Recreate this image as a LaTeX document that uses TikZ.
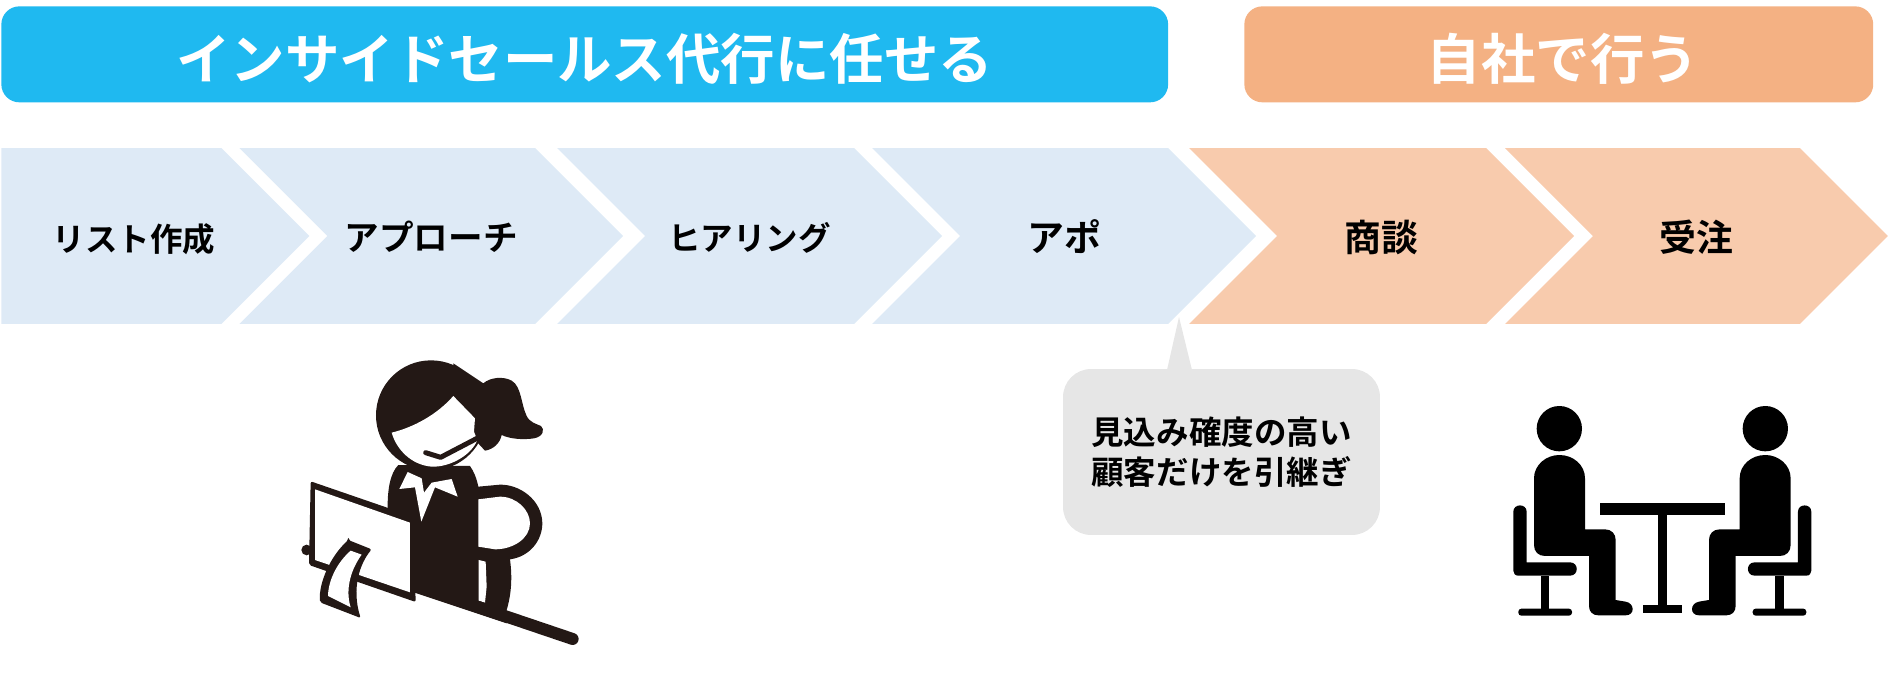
\documentclass[tikz,border=0pt]{standalone}
\usepackage{fontspec}
\setmainfont{Noto Sans CJK JP}[BoldFont={Noto Sans CJK JP Bold}]
\usepackage{tikz}
\usetikzlibrary{positioning,shapes.symbols}
\usepackage{xcolor}
\definecolor{bannerblue}{HTML}{1FB9F0}
\definecolor{bannerorange}{HTML}{F4B183}
\definecolor{stepblue}{HTML}{DEEAF6}
\definecolor{steporange}{HTML}{F8CBAD}
\definecolor{bubblegray}{HTML}{E6E6E6}
\definecolor{inkblack}{HTML}{231815}

\begin{document}
\begin{tikzpicture}[
        x=0.02cm,
        y=-0.02cm,
        banner/.style={
            rectangle,
            rounded corners=0.36cm,
            anchor=north west,
            minimum height=1.92cm,
            text=white,
            text height=31pt,
            text depth=2.4pt,
            font=\fontsize{31}{31}\selectfont\bfseries
        },
        flow/.style={
            signal,
            signal to=east,
            signal from=west,
            signal pointer angle=90,
            inner sep=0pt,
            minimum height=3.52cm,
            text height=18pt,
            text depth=1.7pt,
            font=\fontsize{18.5}{18.5}\selectfont\bfseries
        },
        bluestep/.style={flow, fill=stepblue},
        orangestep/.style={flow, fill=steporange},
        largetext/.style={
            text height=20pt,
            text depth=1.8pt,
            font=\fontsize{21}{21}\selectfont\bfseries
        },
        caption/.style={font=\fontsize{18.5}{22.7}\selectfont\bfseries}
    ]
    \useasboundingbox (0,0) rectangle (1891,683);

    % TOP: BANNERS
    \node[banner, fill=bannerblue, minimum width=23.34cm] (inside) at (1,6) {インサイドセールス代行に任せる};
    \node[banner, fill=bannerorange, minimum width=12.58cm] (own) at (1244,6) {\hspace*{0.16cm}自社で行う};

    % MIDDLE: PROCESS STEPS
    \node[bluestep, signal from=nowhere, anchor=west, minimum width=6.16cm] (list) at (1,236) {};
    \node[bluestep, right=0.34cm of list, minimum width=7.68cm, font=\fontsize{19.7}{19.7}\selectfont\bfseries] (approach) {アプローチ};
    \node[bluestep, right=0.42cm of approach, minimum width=7.70cm] (hearing) {ヒアリング};
    \node[bluestep, right=0.34cm of hearing, minimum width=7.68cm, largetext] (appoint) {アポ};
    \node[orangestep, right=0.40cm of appoint, minimum width=7.70cm, largetext] (meeting) {商談};
    \node[orangestep, right=0.36cm of meeting, minimum width=7.66cm, largetext] (order) {受注};
    \node[caption] (listtext) at (134,239) {リスト作成};

    % BOTTOM: SPEECH BUBBLE
    \node[rectangle, rounded corners=0.56cm, fill=bubblegray, align=center,
        minimum width=6.34cm, minimum height=3.32cm, caption] (bubble) at (1221.5,452)
        {見込み確度の高い\\顧客だけを引継ぎ};
    \coordinate (tailtip) at (1179,317);
    \fill[bubblegray] (tailtip) -- (1192,370) -- (1167,370) -- cycle;

    % WOMAN AT THE LAPTOP
    \begin{scope}[shift={(280,340)}, x=0.00667cm, y=-0.00667cm]
        % body and arm
        \fill[inkblack] (355,375) .. controls (330,400) and (322,450) .. (323,510)
            -- (390,540) -- (395,755) -- (680,850) -- (680,810)
            .. controls (695,760) and (697,710) .. (690,658)
            .. controls (750,650) and (788,600) .. (787,548)
            .. controls (785,480) and (720,433) .. (660,434)
            -- (595,440) .. controls (590,415) and (582,395) .. (570,378) -- cycle;
        \fill[white] (595,478) -- (660,470)
            .. controls (710,470) and (750,510) .. (750,550)
            .. controls (750,595) and (700,628) .. (645,628) -- (595,620) -- cycle;
        \fill[white] (596,660) -- (617,665) -- (620,740) -- (615,788) -- (596,782) -- cycle;
        \fill[white] (383,396) -- (425,415) -- (432,458) -- (455,428) -- (515,417)
            -- (533,470) -- (465,442) -- (424,545) -- (405,442) -- (358,447) -- cycle;
        % head and headset
        \fill[inkblack] (453,226) circle (165);
        \fill[inkblack] (610,130) .. controls (630,112) and (670,108) .. (695,122)
            .. controls (725,140) and (722,190) .. (740,228)
            .. controls (750,248) and (770,252) .. (783,258)
            .. controls (795,268) and (790,290) .. (762,295)
            .. controls (730,300) and (690,297) .. (665,285)
            .. controls (660,310) and (640,328) .. (615,332) -- (520,230) -- (520,70) -- cycle;
        \fill[white] (335,278) .. controls (400,262) and (470,225) .. (520,168)
            -- (585,235) -- (582,275) -- (592,300)
            .. controls (575,345) and (510,382) .. (455,380)
            .. controls (395,375) and (350,330) .. (335,278) -- cycle;
        \draw[inkblack, line width=0.1cm, line cap=round, line join=round]
            (595,293) -- (482,352) -- (437,338);
        % laptop and table
        \draw[inkblack, line width=0.24cm, line cap=round] (500,769) -- (878,897);
        \fill[inkblack] (80,630) circle (16);
        \fill[inkblack, rounded corners=0.04cm] (92,424) -- (400,530) -- (407,786) -- (87,675) -- cycle;
        \fill[white] (105,448) -- (390,548) -- (390,757) -- (105,660) -- cycle;
        % keyboard sheet
        \fill[inkblack, rounded corners=0.04cm] (205,600) -- (275,628)
            .. controls (240,670) and (214,745) .. (242,834)
            -- (120,787) .. controls (116,730) and (150,650) .. (205,600) -- cycle;
        \fill[white] (212,632) -- (245,644) .. controls (215,685) and (194,745) .. (212,802)
            -- (144,768) .. controls (145,720) and (172,667) .. (212,632) -- cycle;
    \end{scope}

    % TWO PEOPLE AT A TABLE
    \begin{scope}[shift={(1480,380)}, x=0.00667cm, y=-0.00667cm]
        \fill (360,370) rectangle (735,405);
        \fill (534,405) rectangle (562,676);
        \fill (488,676) rectangle (607,699);
        \foreach \flip/\offset in {1/0, -1/1094}{
            \begin{scope}[xshift=\offset*0.00667cm, xscale=\flip]
                \fill (238,146) circle (68);
                \fill (162,295) .. controls (162,255) and (198,225) .. (238,225)
                    .. controls (280,225) and (315,255) .. (315,295)
                    -- (315,448) -- (375,448)
                    .. controls (395,448) and (407,462) .. (407,480)
                    -- (407,660) -- (437,665)
                    .. controls (465,670) and (465,706) .. (437,706)
                    -- (355,706) .. controls (338,706) and (327,695) .. (327,678)
                    -- (327,528) -- (195,528)
                    .. controls (175,528) and (162,515) .. (162,495) -- cycle;
                \fill (100,395) .. controls (100,370) and (140,370) .. (140,395)
                    -- (140,547) -- (270,547)
                    .. controls (297,547) and (297,587) .. (270,587)
                    -- (115,587) .. controls (105,587) and (100,580) .. (100,572) -- cycle;
                \fill (183,587) rectangle (208,690);
                \fill[rounded corners=0.06cm] (115,686) rectangle (276,707);
            \end{scope}
        }
    \end{scope}
\end{tikzpicture}
\end{document}
